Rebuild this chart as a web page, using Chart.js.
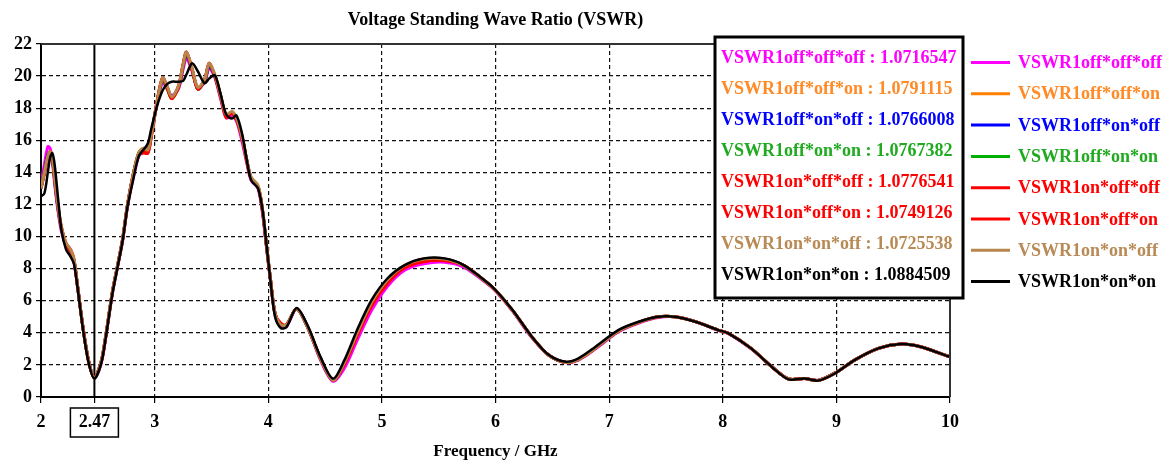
<!DOCTYPE html>
<html>
<head>
<meta charset="utf-8">
<script src="https://cdn.jsdelivr.net/npm/chart.js@4.4.0/dist/chart.umd.min.js"></script>
<style>
  html, body { margin: 0; padding: 0; background: #fff; }
  #wrap { width: 1166px; height: 464px; }
</style>
</head>
<body>
<div id="wrap"><canvas id="vswr" width="1166" height="464"></canvas></div>
<script>
const titleText = 'Voltage Standing Wave Ratio (VSWR)';
const xTitle = 'Frequency / GHz';
const markerFreq = 2.47;
const xTicks = [2, 2.47, 3, 4, 5, 6, 7, 8, 9, 10];

const labels = [
  'VSWR1off*off*off', 'VSWR1off*off*on', 'VSWR1off*on*off', 'VSWR1off*on*on',
  'VSWR1on*off*off', 'VSWR1on*off*on', 'VSWR1on*on*off', 'VSWR1on*on*on',
];
const minVswr = ['1.0716547', '1.0791115', '1.0766008', '1.0767382', '1.0776541', '1.0749126', '1.0725538', '1.0884509'];
const lineColors = ['#ff00ff', '#ff8000', '#0000ff', '#00b000', '#ff0000', '#ff0000', '#b8864b', '#000000'];
const textColors = ['#ff00ff', '#ff8a26', '#0000ff', '#1faa1f', '#ff0000', '#ff0000', '#b88a55', '#000000'];

const freq = [2.00, 2.03, 2.06, 2.08, 2.10, 2.12, 2.15, 2.18, 2.22, 2.26,
  2.29, 2.32, 2.37, 2.42, 2.47, 2.53, 2.57, 2.63, 2.68, 2.72,
  2.76, 2.81, 2.86, 2.90, 2.94, 2.97, 3.02, 3.07, 3.11, 3.15,
  3.21, 3.25, 3.28, 3.33, 3.38, 3.44, 3.48, 3.53, 3.58, 3.63,
  3.68, 3.72, 3.77, 3.81, 3.85, 3.91, 3.95, 3.98, 4.02, 4.06,
  4.11, 4.16, 4.25, 4.35, 4.46, 4.57, 4.67, 4.78, 4.91, 5.05,
  5.20, 5.37, 5.55, 5.72, 5.92, 6.00, 6.15, 6.32, 6.47, 6.62,
  6.73, 6.88, 7.08, 7.26, 7.43, 7.58, 7.76, 7.96, 8.05, 8.25,
  8.43, 8.58, 8.72, 8.84, 8.99, 9.16, 9.37, 9.57, 9.74, 10.0];

const offOffOff = [13.2, 14.5, 15.6, 15.5, 14.7, 13.3, 11.6, 10.3, 9.4, 9.0,
  8.4, 7.0, 4.3, 2.2, 1.2, 2.1, 3.7, 6.5, 8.3, 9.8,
  11.8, 13.6, 15.0, 15.3, 15.6, 16.4, 18.2, 19.6, 19.2, 18.8,
  19.2, 20.4, 21.1, 20.3, 19.3, 19.6, 20.5, 19.9, 18.6, 17.4,
  17.5, 17.2, 15.9, 14.6, 13.5, 13.0, 11.4, 9.6, 7.2, 5.1,
  4.4, 4.4, 5.5, 4.3, 2.3, 0.98, 1.8, 3.5, 5.4, 6.9,
  7.9, 8.3, 8.4, 8.1, 7.1, 6.6, 5.35, 3.7, 2.6, 2.15,
  2.3, 3.0, 4.05, 4.6, 4.95, 5.0, 4.7, 4.15, 3.95, 3.0,
  1.9, 1.12, 1.15, 1.05, 1.5, 2.3, 3.02, 3.3, 3.13, 2.5];
const offOffOn = [13.0, 14.0, 15.0, 15.3, 14.9, 13.6, 11.8, 10.5, 9.5, 9.1,
  8.5, 7.0, 4.3, 2.2, 1.2, 2.2, 3.8, 6.6, 8.4, 9.9,
  11.9, 13.8, 15.2, 15.5, 15.4, 16.3, 18.3, 19.8, 19.3, 18.6,
  19.3, 20.6, 21.4, 20.4, 19.2, 19.75, 20.7, 20.0, 18.8, 17.5,
  17.7, 17.3, 16.2, 14.8, 13.6, 13.1, 11.6, 9.7, 7.3, 5.2,
  4.5, 4.5, 5.5, 4.3, 2.4, 1.05, 2.1, 3.9, 5.8, 7.2,
  8.1, 8.5, 8.55, 8.2, 7.15, 6.65, 5.4, 3.75, 2.6, 2.15,
  2.35, 3.05, 4.1, 4.65, 5.0, 5.0, 4.7, 4.17, 3.97, 3.03,
  1.9, 1.12, 1.15, 1.03, 1.5, 2.3, 3.03, 3.3, 3.13, 2.5];
const offOnOff = [13.1, 14.1, 15.1, 15.2, 14.8, 13.5, 11.7, 10.5, 9.5, 9.1,
  8.5, 7.0, 4.3, 2.2, 1.2, 2.2, 3.8, 6.6, 8.4, 9.9,
  11.9, 13.8, 15.2, 15.4, 15.4, 16.3, 18.3, 19.8, 19.3, 18.7,
  19.3, 20.6, 21.3, 20.4, 19.2, 19.7, 20.6, 20.0, 18.8, 17.5,
  17.7, 17.3, 16.2, 14.8, 13.6, 13.1, 11.6, 9.7, 7.3, 5.2,
  4.5, 4.5, 5.5, 4.3, 2.4, 1.05, 2.1, 3.9, 5.85, 7.25,
  8.15, 8.55, 8.6, 8.2, 7.15, 6.65, 5.4, 3.75, 2.6, 2.15,
  2.35, 3.05, 4.1, 4.65, 5.0, 5.0, 4.7, 4.17, 3.97, 3.03,
  1.9, 1.12, 1.15, 1.03, 1.5, 2.3, 3.03, 3.3, 3.13, 2.5];
const offOnOn = [13.0, 14.0, 15.0, 15.2, 14.8, 13.6, 11.8, 10.5, 9.5, 9.1,
  8.5, 7.0, 4.3, 2.2, 1.2, 2.2, 3.8, 6.6, 8.4, 9.9,
  11.9, 13.8, 15.2, 15.4, 15.3, 16.3, 18.3, 19.8, 19.2, 18.6,
  19.3, 20.6, 21.4, 20.4, 19.2, 19.7, 20.7, 20.0, 18.8, 17.5,
  17.7, 17.3, 16.2, 14.8, 13.6, 13.1, 11.6, 9.7, 7.3, 5.2,
  4.5, 4.5, 5.5, 4.3, 2.4, 1.05, 2.1, 3.9, 5.8, 7.2,
  8.1, 8.5, 8.55, 8.2, 7.15, 6.65, 5.4, 3.75, 2.6, 2.15,
  2.35, 3.05, 4.1, 4.65, 5.0, 5.0, 4.7, 4.17, 3.97, 3.03,
  1.9, 1.12, 1.15, 1.03, 1.5, 2.3, 3.03, 3.3, 3.13, 2.5];
const onOffOff = [13.0, 13.9, 14.9, 15.2, 14.9, 13.7, 11.9, 10.6, 9.6, 9.2,
  8.6, 7.0, 4.3, 2.2, 1.2, 2.2, 3.8, 6.6, 8.4, 9.9,
  11.9, 13.8, 15.1, 15.2, 15.2, 16.2, 18.4, 19.9, 19.3, 18.6,
  19.4, 20.7, 21.5, 20.4, 19.2, 19.8, 20.8, 20.0, 18.7, 17.4,
  17.7, 17.3, 16.1, 14.7, 13.6, 13.1, 11.6, 9.7, 7.3, 5.2,
  4.6, 4.5, 5.5, 4.3, 2.4, 1.05, 2.05, 3.8, 5.7, 7.1,
  8.05, 8.45, 8.5, 8.2, 7.15, 6.65, 5.4, 3.75, 2.6, 2.15,
  2.35, 3.05, 4.1, 4.65, 5.0, 5.0, 4.7, 4.17, 3.97, 3.03,
  1.9, 1.12, 1.15, 1.03, 1.5, 2.3, 3.03, 3.3, 3.13, 2.5];
const onOffOn = [13.0, 14.0, 15.0, 15.3, 14.9, 13.6, 11.8, 10.5, 9.5, 9.1,
  8.5, 7.0, 4.3, 2.2, 1.2, 2.2, 3.8, 6.6, 8.4, 9.9,
  11.9, 13.8, 15.1, 15.3, 15.2, 16.2, 18.3, 19.9, 19.3, 18.6,
  19.3, 20.7, 21.5, 20.4, 19.2, 19.8, 20.8, 20.0, 18.8, 17.5,
  17.7, 17.3, 16.2, 14.8, 13.6, 13.1, 11.6, 9.7, 7.3, 5.2,
  4.5, 4.5, 5.5, 4.3, 2.4, 1.05, 2.05, 3.8, 5.7, 7.1,
  8.05, 8.45, 8.5, 8.2, 7.15, 6.65, 5.4, 3.75, 2.6, 2.15,
  2.35, 3.05, 4.1, 4.65, 5.0, 5.0, 4.7, 4.17, 3.97, 3.03,
  1.9, 1.12, 1.15, 1.03, 1.5, 2.3, 3.03, 3.3, 3.13, 2.5];
const onOnOff = [13.0, 14.0, 15.0, 15.3, 15.0, 13.7, 11.9, 10.6, 9.6, 9.2,
  8.6, 7.0, 4.3, 2.2, 1.2, 2.2, 3.8, 6.6, 8.4, 9.9,
  11.9, 13.8, 15.2, 15.5, 15.4, 16.3, 18.3, 19.9, 19.4, 18.7,
  19.4, 20.7, 21.5, 20.5, 19.3, 19.8, 20.8, 20.1, 18.8, 17.6,
  17.8, 17.4, 16.2, 14.8, 13.7, 13.2, 11.7, 9.8, 7.3, 5.2,
  4.5, 4.5, 5.5, 4.3, 2.4, 1.05, 2.15, 3.95, 5.9, 7.3,
  8.2, 8.6, 8.6, 8.2, 7.15, 6.65, 5.4, 3.75, 2.6, 2.15,
  2.35, 3.05, 4.1, 4.65, 5.0, 5.0, 4.7, 4.17, 3.97, 3.03,
  1.9, 1.12, 1.15, 1.03, 1.5, 2.3, 3.03, 3.3, 3.13, 2.5];
const onOnOn = [12.5, 12.7, 14.0, 14.9, 15.2, 14.5, 12.4, 10.4, 9.2, 8.75,
  8.3, 6.9, 4.2, 2.1, 1.15, 2.1, 3.7, 6.5, 8.3, 9.8,
  11.8, 13.5, 15.0, 15.4, 15.8, 16.7, 18.1, 19.1, 19.5, 19.65,
  19.65, 19.7, 20.1, 20.8, 20.3, 19.55, 19.85, 20.05, 18.9, 17.6,
  17.35, 17.55, 16.4, 14.8, 13.5, 13.0, 11.65, 9.8, 7.2, 5.0,
  4.3, 4.35, 5.55, 4.4, 2.5, 1.15, 2.3, 4.15, 6.05, 7.4,
  8.22, 8.64, 8.64, 8.22, 7.18, 6.67, 5.42, 3.76, 2.62, 2.2,
  2.41, 3.13, 4.17, 4.69, 5.0, 5.0, 4.69, 4.17, 3.97, 3.03,
  1.89, 1.1, 1.16, 1.02, 1.48, 2.3, 3.03, 3.3, 3.13, 2.5];

const series = [offOffOff, offOffOn, offOnOff, offOnOn, onOffOff, onOffOn, onOnOff, onOnOn];

const serif = '"Liberation Serif", "Times New Roman", serif';
const clear = 'rgba(0,0,0,0)';

// title, 2.47 marker, frame and both legends
const decorations = {
  id: 'decorations',
  beforeDatasetsDraw(chart) {
    const { ctx, chartArea: a, scales: { x } } = chart;
    const px = x.getPixelForValue(markerFreq);
    ctx.save();
    ctx.strokeStyle = '#000';
    ctx.lineWidth = 2;
    ctx.beginPath();
    ctx.moveTo(px, a.top);
    ctx.lineTo(px, a.bottom);
    ctx.stroke();
    ctx.restore();
  },
  afterDraw(chart) {
    const { ctx, chartArea: a, scales: { x } } = chart;
    ctx.save();

    ctx.strokeStyle = '#333';
    ctx.lineWidth = 2;
    ctx.beginPath();
    ctx.moveTo(a.left, a.top);
    ctx.lineTo(a.right, a.top);
    ctx.lineTo(a.right, a.bottom);
    ctx.stroke();

    ctx.fillStyle = '#000';
    ctx.font = 'bold 18px ' + serif;
    ctx.textAlign = 'center';
    ctx.textBaseline = 'middle';
    ctx.fillText(titleText, (a.left + a.right) / 2, 20);

    const px = x.getPixelForValue(markerFreq);
    ctx.strokeStyle = '#000';
    ctx.lineWidth = 1.5;
    ctx.strokeRect(px - 24, 408, 48, 29);

    // boxed legend with minimum values
    ctx.fillStyle = '#fff';
    ctx.fillRect(715, 37, 248, 261);
    ctx.lineWidth = 3;
    ctx.strokeRect(715, 37, 248, 261);
    ctx.textAlign = 'left';
    ctx.font = 'bold 18px ' + serif;
    labels.forEach((label, i) => {
      ctx.fillStyle = textColors[i];
      ctx.fillText(label + ' : ' + minVswr[i], 721, 58 + i * 31.1);
    });

    // line legend on the right
    chart.data.datasets.forEach((ds, i) => {
      const y = 62.5 + i * 31.3;
      ctx.strokeStyle = ds.borderColor;
      ctx.lineWidth = 3;
      ctx.beginPath();
      ctx.moveTo(971, y);
      ctx.lineTo(1010, y);
      ctx.stroke();
      ctx.fillStyle = textColors[i];
      ctx.fillText(ds.label, 1018, y + 1);
    });
    ctx.restore();
  },
};

new Chart(document.getElementById('vswr'), {
  type: 'line',
  data: {
    datasets: series.map((vals, i) => ({
      label: labels[i],
      data: freq.map((f, j) => ({ x: f, y: vals[j] })),
      borderColor: lineColors[i],
      borderWidth: i === 7 ? 2.5 : 3,
      pointRadius: 0,
      tension: 0.3,
      order: 7 - i,
    })),
  },
  options: {
    responsive: false,
    animation: false,
    devicePixelRatio: 1,
    layout: { padding: { top: 44, right: 216, left: 0, bottom: 0 } },
    plugins: { legend: { display: false }, title: { display: false }, tooltip: { enabled: false } },
    scales: {
      x: {
        type: 'linear',
        min: 2,
        max: 10,
        afterBuildTicks: (scale) => { scale.ticks = xTicks.map((v) => ({ value: v })); },
        afterFit: (scale) => { scale.height = 67; },
        ticks: {
          autoSkip: false,
          maxRotation: 0,
          padding: 9,
          color: '#000',
          font: { family: serif, size: 18, weight: 'bold' },
          callback: (v) => String(v),
        },
        grid: {
          color: (c) => (c.tick && [2, 10, markerFreq].includes(c.tick.value) ? clear : '#111'),
          lineWidth: 1.2,
          tickLength: 6,
          tickColor: '#000',
        },
        border: { display: true, color: '#000', width: 2, dash: [4, 3] },
        title: {
          display: true,
          text: xTitle,
          color: '#000',
          padding: { top: 0, bottom: 2 },
          font: { family: serif, size: 17, weight: 'bold' },
        },
      },
      y: {
        min: 0,
        max: 22,
        afterFit: (scale) => { scale.width = 41; },
        ticks: {
          stepSize: 2,
          padding: 4,
          color: '#000',
          font: { family: serif, size: 18, weight: 'bold' },
        },
        grid: {
          color: (c) => (c.tick && (c.tick.value === 0 || c.tick.value === 22) ? clear : '#111'),
          lineWidth: 1.2,
          tickLength: 5,
          tickColor: '#000',
        },
        border: { display: true, color: '#000', width: 2, dash: [4, 3] },
      },
    },
  },
  plugins: [decorations],
});
</script>
</body>
</html>
